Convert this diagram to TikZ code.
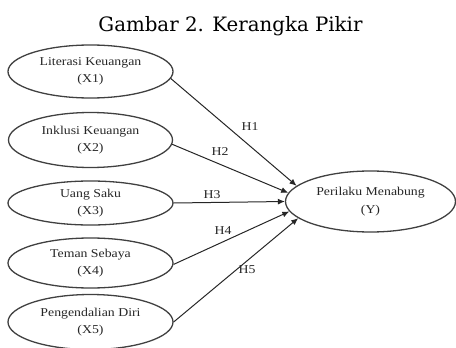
\documentclass[tikz,border=0pt]{standalone}
\usepackage{fontspec}
\setmainfont{Liberation Serif}
\newfontfamily\boxfont[FakeStretch=1.15]{Liberation Serif}
\newfontfamily\titlefont{DejaVu Serif}
\usetikzlibrary{shapes.geometric,arrows.meta}
\definecolor{ink}{HTML}{262626}
\definecolor{rim}{HTML}{404040}
\tikzset{
  var/.style={draw=rim, line width=1.3pt, ellipse, inner sep=0pt, align=center,
    text=ink, font=\boxfont\fontsize{12}{17.5}\selectfont},
  link/.style={draw=ink, line width=1pt, -{Latex[length=7pt,width=6pt]}},
  hlab/.style={text=ink, font=\boxfont\fontsize{12}{14}\selectfont, inner sep=0pt}
}
\begin{document}
\begin{tikzpicture}[x=1pt,y=-1pt]
\useasboundingbox (0,0) rectangle (456,348);
\node[anchor=base, text=black, font=\titlefont\fontsize{19.8}{22}\selectfont, inner sep=0pt] (title) at (230.5,31.5) {Gambar 2. Kerangka Pikir};
\node[var, minimum width=165pt, minimum height=53pt] (e1) at (90.5,71.5) {Literasi Keuangan\\(X1)};
\node[var, minimum width=164pt, minimum height=55pt] (e2) at (90.5,140) {Inklusi Keuangan\\(X2)};
\node[var, minimum width=165pt, minimum height=44pt] (e3) at (90.5,203) {Uang Saku\\(X3)};
\node[var, minimum width=165pt, minimum height=50pt] (e4) at (90.5,263) {Teman Sebaya\\(X4)};
\node[var, minimum width=165pt, minimum height=55pt] (e5) at (90.5,322) {Pengendalian Diri\\(X5)};
\node[var, minimum width=170pt, minimum height=61pt] (y) at (370.5,201.5) {Perilaku Menabung\\(Y)};
\draw[link] (e1.-5) -- (y.168);
\draw[link] (e2.-3) -- (y.174);
\draw[link] (e3.east) -- (y.west);
\draw[link] (e4.-1) -- (y.187);
\draw[link] (e5.east) -- (y.193);
\node[hlab] (h1) at (250,127) {H1};
\node[hlab] (h2) at (220,152) {H2};
\node[hlab] (h3) at (212,195) {H3};
\node[hlab] (h4) at (223,231) {H4};
\node[hlab] (h5) at (247,270) {H5};
\end{tikzpicture}
\end{document}
